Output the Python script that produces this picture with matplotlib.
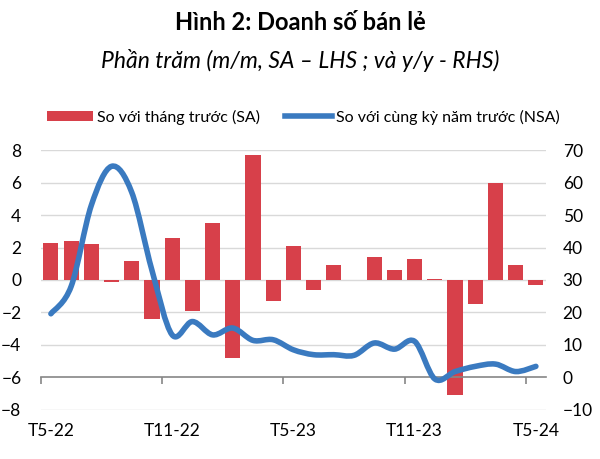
import numpy as np
import matplotlib
matplotlib.use('Agg')
import matplotlib.pyplot as plt
from matplotlib.path import Path
from matplotlib.patches import PathPatch, Patch
from matplotlib.lines import Line2D

plt.rcParams['font.family'] = ['Lato', 'Noto Sans', 'DejaVu Sans']

months = ['T5-22', 'T6-22', 'T7-22', 'T8-22', 'T9-22', 'T10-22', 'T11-22', 'T12-22',
          'T1-23', 'T2-23', 'T3-23', 'T4-23', 'T5-23', 'T6-23', 'T7-23', 'T8-23',
          'T9-23', 'T10-23', 'T11-23', 'T12-23', 'T1-24', 'T2-24', 'T3-24', 'T4-24', 'T5-24']
mom_sa = [2.3, 2.4, 2.2, -0.1, 1.2, -2.4, 2.6, -1.9, 3.5, -4.8, 7.7, -1.3, 2.1,
          -0.6, 0.95, 0.02, 1.4, 0.6, 1.3, 0.05, -7.1, -1.5, 6.0, 0.9, -0.3]
yoy_nsa = [19.6, 28.0, 53.0, 65.0, 57.0, 33.0, 13.1, 17.2, 13.1, 15.2, 11.4, 11.6, 8.5,
           7.0, 7.0, 6.8, 10.6, 8.7, 11.1, -0.5, 1.8, 3.4, 4.1, 1.8, 3.4]
shown_labels = ['T5-22', 'T11-22', 'T5-23', 'T11-23', 'T5-24']

red = '#D7404A'
blue = '#3A7AC0'


def smooth_path(x, y):
    # Excel-like smoothed line: Catmull-Rom segments drawn as cubic Bezier curves
    pts = np.column_stack([x, y]).astype(float)
    n = len(pts)
    verts = [pts[0]]
    codes = [Path.MOVETO]
    for i in range(n - 1):
        p0 = pts[i - 1] if i > 0 else pts[i]
        p1 = pts[i]
        p2 = pts[i + 1]
        p3 = pts[i + 2] if i + 2 < n else pts[i + 1]
        c1 = p1 + (p2 - p0) / 6.0
        c2 = p2 - (p3 - p1) / 6.0
        verts += [c1, c2, p2]
        codes += [Path.CURVE4] * 3
    return Path(verts, codes)


fig = plt.figure(figsize=(6, 4.59), dpi=100)
ax = fig.add_axes([0.068, 0.107, 0.842, 0.566])
x = np.arange(len(months))

ax.bar(x, mom_sa, width=0.75, color=red, zorder=2)
ax.set_xlim(-0.5, len(months) - 0.5)
ax.set_ylim(-8, 8)
ax.set_yticks(np.arange(-8, 9, 2))
for v in np.arange(-8, 9, 2):
    if v != -6:
        ax.axhline(v, color='#D9D9D9', lw=1.0, zorder=0)

for s in ['top', 'right', 'left']:
    ax.spines[s].set_visible(False)
ax.spines['bottom'].set_position(('data', -6))
ax.spines['bottom'].set_color('#868686')
ax.spines['bottom'].set_linewidth(1.2)

ax.set_xticks(np.arange(-0.5, len(months), 6))
ax.set_xticklabels([])
ax.tick_params(axis='x', which='major', length=5, color='#868686', width=1.2)
ax.set_xticks([months.index(m) for m in shown_labels], minor=True)
ax.set_xticklabels(shown_labels, minor=True)
ax.tick_params(axis='x', which='minor', length=0, pad=33, labelsize=12.5)
ax.tick_params(axis='y', length=0, pad=14, labelsize=12.5)

ax2 = ax.twinx()
ax2.set_ylim(-10, 70)
ax2.set_yticks(np.arange(-10, 71, 10))
ax2.tick_params(axis='y', length=0, pad=12, labelsize=12.5)
for s in ax2.spines.values():
    s.set_visible(False)
ax2.add_patch(PathPatch(smooth_path(x, yoy_nsa), facecolor='none', edgecolor=blue,
                        lw=4.0, capstyle='round', joinstyle='round', zorder=3))

fig.text(0.5, 0.95, 'Hình 2: Doanh số bán lẻ', ha='center', va='center',
         fontsize=17, fontweight='bold')
fig.text(0.5, 0.868, 'Phần trăm (m/m, SA – LHS ; và y/y - RHS)', ha='center', va='center',
         fontsize=16.5, style='italic')

handles = [Patch(facecolor=red), Line2D([0], [0], color=blue, lw=4.0)]
fig.legend(handles, ['So với tháng trước (SA)', 'So với cùng kỳ năm trước (NSA)'],
           loc='center', bbox_to_anchor=(0.505, 0.745), ncol=2, frameon=False,
           fontsize=11.5, handlelength=2.9, handleheight=0.6, handletextpad=0.25,
           columnspacing=1.6)

fig.savefig('out.png', dpi=100)
